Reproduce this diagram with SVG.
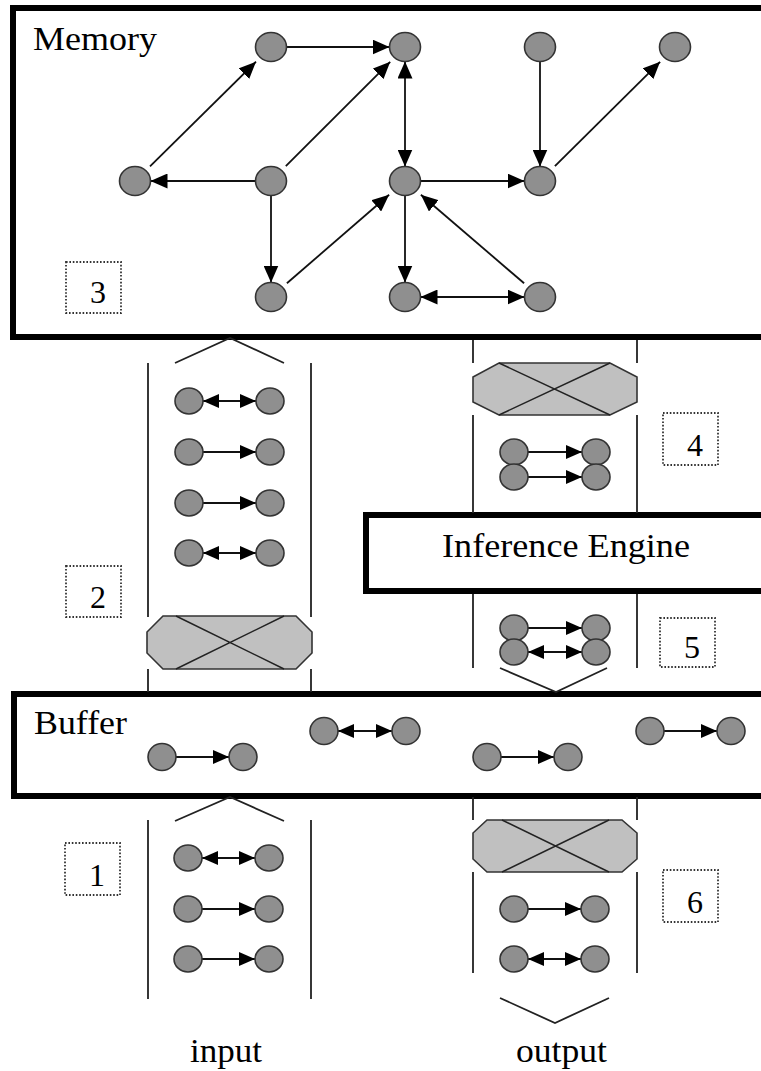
<svg xmlns="http://www.w3.org/2000/svg" width="761" height="1071" viewBox="0 0 761 1071">
<style>
.box{fill:none;stroke:#000;stroke-width:6}
.lab{font-family:"Liberation Serif","Times New Roman",serif;font-size:33px;fill:#000}
.num{font-family:"Liberation Serif","Times New Roman",serif;font-size:32px;fill:#000;text-anchor:middle}
.tag{fill:none;stroke:#333;stroke-width:1.8;stroke-dasharray:1.6 1.8}
.n{fill:#8f8f8f;stroke:#333;stroke-width:1.6}
.oct{fill:#c0c0c0;stroke:#333;stroke-width:1.6}
.x{fill:none;stroke:#222;stroke-width:1.5}
.wall{fill:none;stroke:#222;stroke-width:1.8}
.e{fill:none;stroke:#111;stroke-width:1.8}
.a{marker-end:url(#ah)}
.d{marker-start:url(#ah);marker-end:url(#ah)}
.sa{marker-end:url(#sh)}
.sd{marker-start:url(#sh);marker-end:url(#sh)}
</style>
<defs>
<marker id="ah" markerUnits="userSpaceOnUse" markerWidth="17" markerHeight="15" viewBox="0 0 17 15" refX="17" refY="7.5" orient="auto-start-reverse"><path d="M0,0 L17,7.5 L0,15 z" fill="#000"/></marker>
<marker id="sh" markerUnits="userSpaceOnUse" markerWidth="16" markerHeight="14" viewBox="0 0 16 14" refX="16" refY="7" orient="auto-start-reverse"><path d="M0,0 L16,7 L0,14 z" fill="#000"/></marker>
</defs>
<rect width="761" height="1071" fill="#fff"/>

<!-- containers -->
<g id="memory"><rect class="box" x="13" y="8" width="800" height="329"/><text class="lab" x="33" y="50" textLength="124" lengthAdjust="spacingAndGlyphs">Memory</text></g>
<g id="inference-engine"><rect class="box" x="366" y="515" width="450" height="76" stroke-width="5"/><text class="lab" x="442" y="557" textLength="248" lengthAdjust="spacingAndGlyphs">Inference Engine</text></g>
<g id="buffer"><rect class="box" x="14" y="694" width="800" height="102" stroke-width="5"/><text class="lab" x="34" y="734" textLength="93" lengthAdjust="spacingAndGlyphs">Buffer</text></g>

<!-- channel walls and chevrons -->
<g id="channel-input-upper">
<path class="wall" d="M148,363 V617 M311,363 V617 M148,669 V692 M311,669 V692"/>
<polyline class="wall" points="175,363 230,338 284,363"/>
</g>
<g id="channel-output-upper">
<path class="wall" d="M473,340 V363 M637,340 V363 M473,415 V513 M637,415 V513 M473,594 V668 M637,594 V668"/>
<polyline class="wall" points="500,668 556,692 607,668"/>
</g>
<g id="channel-input-lower">
<path class="wall" d="M148,820 V999 M311,820 V999"/>
<polyline class="wall" points="175,821 230,797 284,821"/>
</g>
<g id="channel-output-lower">
<path class="wall" d="M473,797 V820 M637,797 V820 M473,872 V973 M637,872 V973"/>
<polyline class="wall" points="500,998 555,1023 609,998"/>
</g>

<!-- gates -->
<g id="gate-2"><polygon class="oct" points="163,616 296,616 312,632 312,653 296,669 163,669 147,653 147,632"/><path class="x" d="M176,616 L284,669 M284,616 L176,669"/></g>
<g id="gate-4"><polygon class="oct" points="499,363 610,363 637,377 637,402 610,415 499,415 473,402 473,377"/><path class="x" d="M499,363 L610,415 M610,363 L499,415"/></g>
<g id="gate-6"><polygon class="oct" points="487,820 622,820 637,833 637,859 622,872 487,872 473,859 473,833"/><path class="x" d="M502,820 L609,872 M609,820 L502,872"/></g>

<!-- tags -->
<g id="tag-1"><rect class="tag" x="65" y="843" width="55" height="52"/><text class="num" x="97" y="886">1</text></g>
<g id="tag-2"><rect class="tag" x="66" y="566" width="55" height="51"/><text class="num" x="98" y="608">2</text></g>
<g id="tag-3"><rect class="tag" x="66" y="262" width="55" height="51"/><text class="num" x="98" y="303">3</text></g>
<g id="tag-4"><rect class="tag" x="663" y="413" width="55" height="52"/><text class="num" x="695" y="456">4</text></g>
<g id="tag-5"><rect class="tag" x="660" y="618" width="55" height="49"/><text class="num" x="692" y="658">5</text></g>
<g id="tag-6"><rect class="tag" x="663" y="870" width="55" height="52"/><text class="num" x="695" y="913">6</text></g>

<!-- connectors -->
<g id="connectors">
<line class="e a" x1="286.5" y1="47" x2="389.5" y2="47"/>
<line class="e a" x1="150" y1="166.3" x2="256" y2="61.7"/>
<line class="e a" x1="255.5" y1="181" x2="150.5" y2="181"/>
<line class="e a" x1="285.8" y1="166.2" x2="390.2" y2="61.8"/>
<line class="e a" x1="271" y1="195.5" x2="271" y2="282.5"/>
<line class="e a" x1="286.9" y1="283.3" x2="389.1" y2="194.7"/>
<line class="e d" x1="405" y1="61.5" x2="405" y2="166.5"/>
<line class="e a" x1="420.5" y1="181" x2="524.5" y2="181"/>
<line class="e a" x1="540" y1="61.5" x2="540" y2="166.5"/>
<line class="e a" x1="554.9" y1="166.2" x2="660.1" y2="61.8"/>
<line class="e a" x1="405" y1="195.5" x2="405" y2="282.5"/>
<line class="e a" x1="524.1" y1="283.3" x2="420.9" y2="194.7"/>
<line class="e d" x1="420.5" y1="297" x2="524.5" y2="297" stroke-width="2.6"/>

<line class="e sd" x1="203" y1="401" x2="256" y2="401"/>
<line class="e sa" x1="203" y1="452" x2="256" y2="452"/>
<line class="e sa" x1="203" y1="503" x2="256" y2="503"/>
<line class="e sd" x1="203" y1="553" x2="256" y2="553"/>

<line class="e sa" x1="528" y1="452" x2="582" y2="452"/>
<line class="e sa" x1="528" y1="477" x2="582" y2="477"/>
<line class="e sa" x1="528" y1="628" x2="582" y2="628"/>
<line class="e sd" x1="528" y1="652" x2="582" y2="652"/>

<line class="e sa" x1="176" y1="757" x2="229" y2="757"/>
<line class="e sd" x1="338" y1="731" x2="392" y2="731"/>
<line class="e sa" x1="501" y1="757" x2="554" y2="757"/>
<line class="e sa" x1="664" y1="731" x2="717" y2="731"/>

<line class="e sd" x1="202" y1="858" x2="255" y2="858"/>
<line class="e sa" x1="202" y1="909" x2="255" y2="909"/>
<line class="e sa" x1="202" y1="959" x2="255" y2="959"/>

<line class="e sa" x1="528" y1="909" x2="581" y2="909"/>
<line class="e sd" x1="528" y1="959" x2="581" y2="959"/>
</g>

<!-- memory nodes -->
<g id="m1"><ellipse class="n" cx="271" cy="47" rx="15.5" ry="14.5"/></g>
<g id="m2"><ellipse class="n" cx="405" cy="47" rx="15.5" ry="14.5"/></g>
<g id="m3"><ellipse class="n" cx="540" cy="47" rx="15.5" ry="14.5"/></g>
<g id="m4"><ellipse class="n" cx="675" cy="47" rx="15.5" ry="14.5"/></g>
<g id="m5"><ellipse class="n" cx="135" cy="181" rx="15.5" ry="14.5"/></g>
<g id="m6"><ellipse class="n" cx="271" cy="181" rx="15.5" ry="14.5"/></g>
<g id="m7"><ellipse class="n" cx="405" cy="181" rx="15.5" ry="14.5"/></g>
<g id="m8"><ellipse class="n" cx="540" cy="181" rx="15.5" ry="14.5"/></g>
<g id="m9"><ellipse class="n" cx="271" cy="297" rx="15.5" ry="14.5"/></g>
<g id="m10"><ellipse class="n" cx="405" cy="297" rx="15.5" ry="14.5"/></g>
<g id="m11"><ellipse class="n" cx="540" cy="297" rx="15.5" ry="14.5"/></g>

<!-- input upper pairs -->
<g id="iu1"><ellipse class="n" cx="189" cy="401" rx="14" ry="13"/><ellipse class="n" cx="270" cy="401" rx="14" ry="13"/></g>
<g id="iu2"><ellipse class="n" cx="189" cy="452" rx="14" ry="13"/><ellipse class="n" cx="270" cy="452" rx="14" ry="13"/></g>
<g id="iu3"><ellipse class="n" cx="189" cy="503" rx="14" ry="13"/><ellipse class="n" cx="270" cy="503" rx="14" ry="13"/></g>
<g id="iu4"><ellipse class="n" cx="189" cy="553" rx="14" ry="13"/><ellipse class="n" cx="270" cy="553" rx="14" ry="13"/></g>

<!-- output upper pairs -->
<g id="ou1"><ellipse class="n" cx="514" cy="452" rx="14" ry="13"/><ellipse class="n" cx="596" cy="452" rx="14" ry="13"/><ellipse class="n" cx="514" cy="477" rx="14" ry="13"/><ellipse class="n" cx="596" cy="477" rx="14" ry="13"/></g>
<g id="ou2"><ellipse class="n" cx="514" cy="628" rx="14" ry="13"/><ellipse class="n" cx="596" cy="628" rx="14" ry="13"/><ellipse class="n" cx="514" cy="652" rx="14" ry="13"/><ellipse class="n" cx="596" cy="652" rx="14" ry="13"/></g>

<!-- buffer pairs -->
<g id="b1"><ellipse class="n" cx="162" cy="757" rx="14" ry="13.5"/><ellipse class="n" cx="243" cy="757" rx="14" ry="13.5"/></g>
<g id="b2"><ellipse class="n" cx="324" cy="731" rx="14" ry="13.5"/><ellipse class="n" cx="406" cy="731" rx="14" ry="13.5"/></g>
<g id="b3"><ellipse class="n" cx="487" cy="757" rx="14" ry="13.5"/><ellipse class="n" cx="568" cy="757" rx="14" ry="13.5"/></g>
<g id="b4"><ellipse class="n" cx="650" cy="731" rx="14" ry="13.5"/><ellipse class="n" cx="731" cy="731" rx="14" ry="13.5"/></g>

<!-- input lower pairs -->
<g id="il1"><ellipse class="n" cx="188" cy="858" rx="14" ry="13"/><ellipse class="n" cx="269" cy="858" rx="14" ry="13"/></g>
<g id="il2"><ellipse class="n" cx="188" cy="909" rx="14" ry="13"/><ellipse class="n" cx="269" cy="909" rx="14" ry="13"/></g>
<g id="il3"><ellipse class="n" cx="188" cy="959" rx="14" ry="13"/><ellipse class="n" cx="269" cy="959" rx="14" ry="13"/></g>

<!-- output lower pairs -->
<g id="ol1"><ellipse class="n" cx="514" cy="909" rx="14" ry="13"/><ellipse class="n" cx="595" cy="909" rx="14" ry="13"/></g>
<g id="ol2"><ellipse class="n" cx="514" cy="959" rx="14" ry="13"/><ellipse class="n" cx="595" cy="959" rx="14" ry="13"/></g>

<g id="label-input"><text class="lab" x="190" y="1062" textLength="72" lengthAdjust="spacingAndGlyphs">input</text></g>
<g id="label-output"><text class="lab" x="516" y="1062" textLength="91" lengthAdjust="spacingAndGlyphs">output</text></g>
</svg>
